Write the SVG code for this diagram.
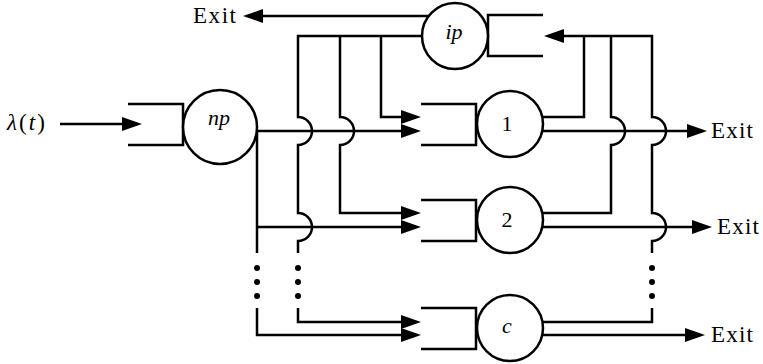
<svg xmlns="http://www.w3.org/2000/svg" width="763" height="364" viewBox="0 0 763 364">
<style>
.ln{fill:none;stroke:#000;stroke-width:2.5;stroke-linejoin:miter}
.ar{marker-end:url(#ah)}
.cir{fill:#fff;stroke:#000;stroke-width:2.5}
.dot{fill:#000}
.t{font-family:"Liberation Serif","DejaVu Serif",serif;font-size:23px;fill:#000}
.lb{font-family:"Liberation Serif","DejaVu Serif",serif;font-size:22px;fill:#000;text-anchor:middle}
.it{font-style:italic}
</style>
<defs>
<marker id="ah" markerUnits="userSpaceOnUse" markerWidth="20" markerHeight="14" refX="15" refY="7" orient="auto">
<path d="M0,0 L20,7 L0,14 z" fill="#000"/>
</marker>
</defs>
<g id="connectors">
<path class="ln ar" d="M60,124 H137"/>
<path class="ln ar" d="M220,131 H416"/>
<path class="ln" d="M257,131 V253"/>
<path class="ln ar" d="M257,227 H416"/>
<path class="ln ar" d="M257,308 V335 H416"/>
<path class="ln" d="M455,36 H298 V117 A14,14 0 0 1 298,145 V213 A14,14 0 0 1 298,241 V253"/>
<path class="ln ar" d="M298,308 V322 H416"/>
<path class="ln ar" d="M340,36 V117 A14,14 0 0 1 340,145 V213 H416"/>
<path class="ln ar" d="M381,36 V117 H416"/>
<path class="ln ar" d="M455,16 H248"/>
<path class="ln" d="M510,117 H584 V36"/>
<path class="ln ar" d="M510,131 H702"/>
<path class="ln" d="M510,213 H611 V145 A14,14 0 0 0 611,117 V36"/>
<path class="ln ar" d="M510,227 H707"/>
<path class="ln" d="M510,322 H652 V308"/>
<path class="ln ar" d="M652,253 V241 A14,14 0 0 0 652,213 V145 A14,14 0 0 0 652,117 V36 H549"/>
<path class="ln ar" d="M510,335 H700"/>
<circle class="dot" cx="257" cy="268" r="3"/>
<circle class="dot" cx="257" cy="282" r="3"/>
<circle class="dot" cx="257" cy="296" r="3"/>
<circle class="dot" cx="298" cy="268" r="3"/>
<circle class="dot" cx="298" cy="282" r="3"/>
<circle class="dot" cx="298" cy="296" r="3"/>
<circle class="dot" cx="652" cy="268" r="3"/>
<circle class="dot" cx="652" cy="282" r="3"/>
<circle class="dot" cx="652" cy="296" r="3"/>
</g>
<g id="input">
<text class="t" x="7" y="130" textLength="38"><tspan class="it">λ</tspan>(<tspan class="it">t</tspan>)</text>
</g>
<g id="np">
<path class="ln" d="M128,104 H183 V145 H128"/>
<circle class="cir" cx="220" cy="127" r="37"/>
<text class="lb it" x="219" y="125">np</text>
</g>
<g id="ip">
<path class="ln" d="M543,15 H488 V56 H543"/>
<circle class="cir" cx="455" cy="36" r="33"/>
<text class="lb it" x="454" y="39">ip</text>
</g>
<g id="server1">
<path class="ln" d="M421,104 H476 V145 H421"/>
<circle class="cir" cx="510" cy="124" r="33"/>
<text class="lb" x="507" y="131">1</text>
</g>
<g id="server2">
<path class="ln" d="M421,200 H476 V241 H421"/>
<circle class="cir" cx="510" cy="220" r="33"/>
<text class="lb" x="507" y="227">2</text>
</g>
<g id="serverc">
<path class="ln" d="M421,308 H476 V349 H421"/>
<circle class="cir" cx="510" cy="328" r="33"/>
<text class="lb it" x="507" y="333">c</text>
</g>
<g id="exits">
<text class="t" x="193" y="23" textLength="43">Exit</text>
<text class="t" x="711" y="138" textLength="42">Exit</text>
<text class="t" x="717" y="234" textLength="42">Exit</text>
<text class="t" x="711" y="342" textLength="42">Exit</text>
</g>
</svg>
